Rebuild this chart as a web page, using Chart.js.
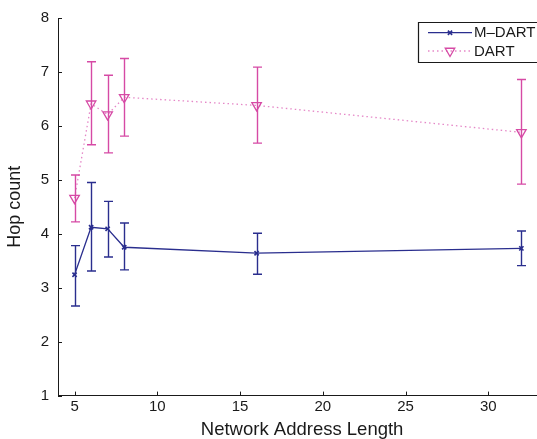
<!DOCTYPE html>
<html>
<head>
<meta charset="utf-8">
<script src="https://cdn.jsdelivr.net/npm/chart.js@4.4.1/dist/chart.umd.min.js"></script>
<style>
  html, body { margin: 0; padding: 0; background: #fff; overflow: hidden; }
  #wrap { width: 537px; height: 439px; overflow: hidden; }
</style>
</head>
<body>
<div id="wrap"><canvas id="chart" width="553" height="439"></canvas></div>
<script>
// network address length on the x axis
const xValues = [5, 6, 7, 8, 16, 32];

// M-DART: mean hop count and error bar limits
const mdartMean = [3.24, 4.12, 4.09, 3.75, 3.64, 3.73];
const mdartLow  = [2.66, 3.31, 3.57, 3.33, 3.25, 3.41];
const mdartHigh = [3.78, 4.95, 4.60, 4.20, 4.01, 4.05];

// DART: mean hop count and error bar limits
const dartMean = [4.66, 6.41, 6.21, 6.53, 6.38, 5.88];
const dartLow  = [4.22, 5.65, 5.50, 5.81, 5.68, 4.92];
const dartHigh = [5.09, 7.19, 6.94, 7.25, 7.09, 6.86];

const xTicks = [5, 10, 15, 20, 25, 30];
const yTicks = [1, 2, 3, 4, 5, 6, 7, 8];

const seriesNames = ['M\u2013DART', 'DART'];

const blue = '#2a2e8e';
const pink = '#d64aa5';
const pinkLine = 'rgba(220, 95, 180, 0.75)';
const ink = '#1a1a1a';

Chart.defaults.font.family = '"Liberation Sans", Arial, Helvetica, sans-serif';
Chart.defaults.color = ink;

function toPoints(ys) {
  return xValues.map((x, i) => ({ x: x, y: ys[i] }));
}

// vertical error bars with caps
const errorBars = {
  id: 'errorBars',
  afterDatasetsDraw(chart) {
    const ctx = chart.ctx;
    const xs = chart.scales.x, ys = chart.scales.y;
    const sets = [
      { low: mdartLow, high: mdartHigh, color: blue },
      { low: dartLow, high: dartHigh, color: pink }
    ];
    ctx.save();
    sets.forEach(s => {
      ctx.strokeStyle = s.color;
      ctx.lineWidth = 1.4;
      xValues.forEach((x, i) => {
        const px = Math.round(xs.getPixelForValue(x)) + 0.5;
        const y1 = ys.getPixelForValue(s.low[i]);
        const y2 = ys.getPixelForValue(s.high[i]);
        ctx.beginPath();
        ctx.moveTo(px, y1);
        ctx.lineTo(px, y2);
        ctx.moveTo(px - 4.5, y1);
        ctx.lineTo(px + 4.5, y1);
        ctx.moveTo(px - 4.5, y2);
        ctx.lineTo(px + 4.5, y2);
        ctx.stroke();
      });
    });
    ctx.restore();
  }
};

// inward tick marks, like the original axes
const innerTicks = {
  id: 'innerTicks',
  afterDraw(chart) {
    const ctx = chart.ctx;
    const xs = chart.scales.x, ys = chart.scales.y;
    const area = chart.chartArea;
    ctx.save();
    ctx.strokeStyle = ink;
    ctx.lineWidth = 1;
    ctx.beginPath();
    xTicks.forEach(v => {
      const px = Math.round(xs.getPixelForValue(v)) + 0.5;
      ctx.moveTo(px, area.bottom);
      ctx.lineTo(px, area.bottom - 4);
    });
    yTicks.forEach(v => {
      const py = Math.round(ys.getPixelForValue(v)) + 0.5;
      ctx.moveTo(area.left, py);
      ctx.lineTo(area.left + 4, py);
    });
    ctx.stroke();
    ctx.restore();
  }
};

// boxed legend in the upper right corner, running past the right edge
const boxLegend = {
  id: 'boxLegend',
  afterDraw(chart) {
    const ctx = chart.ctx;
    const left = 418.5, top = 22.5, w = 200, h = 40;
    const rows = [32.7, 51];
    ctx.save();
    ctx.fillStyle = '#fff';
    ctx.fillRect(left, top, w, h);
    ctx.strokeStyle = ink;
    ctx.lineWidth = 1.2;
    ctx.beginPath();
    ctx.moveTo(left + w, top);
    ctx.lineTo(left, top);
    ctx.lineTo(left, top + h);
    ctx.lineTo(left + w, top + h);
    ctx.stroke();

    chart.data.datasets.forEach((ds, i) => {
      const y = rows[i];
      ctx.save();
      ctx.strokeStyle = ds.borderColor;
      ctx.lineWidth = ds.borderWidth;
      ctx.setLineDash(ds.borderDash || []);
      ctx.beginPath();
      ctx.moveTo(428, y);
      ctx.lineTo(472, y);
      ctx.stroke();
      ctx.restore();
      ctx.strokeStyle = ds.pointBorderColor;
      ctx.fillStyle = 'rgba(0,0,0,0)';
      ctx.lineWidth = ds.pointBorderWidth;
      Chart.helpers.drawPoint(ctx, {
        pointStyle: ds.pointStyle,
        rotation: ds.pointRotation || 0,
        radius: ds.pointRadius,
        borderWidth: ds.pointBorderWidth
      }, 450, y);
      ctx.fillStyle = ink;
      ctx.font = '15px "Liberation Sans", Arial, sans-serif';
      ctx.textBaseline = 'middle';
      ctx.textAlign = 'left';
      ctx.fillText(ds.label, 474, y + 0.5);
    });
    ctx.restore();
  }
};

new Chart(document.getElementById('chart'), {
  type: 'line',
  data: {
    datasets: [
      {
        label: seriesNames[0],
        data: toPoints(mdartMean),
        borderColor: blue,
        borderWidth: 1.3,
        pointStyle: 'crossRot',
        pointRadius: 3,
        pointBorderWidth: 1.6,
        pointBorderColor: blue,
        pointBackgroundColor: blue,
        tension: 0
      },
      {
        label: seriesNames[1],
        data: toPoints(dartMean),
        borderColor: pinkLine,
        borderWidth: 1.3,
        borderDash: [1.5, 3],
        pointStyle: 'triangle',
        pointRotation: 180,
        pointRadius: 5.5,
        pointBorderWidth: 1.3,
        pointBorderColor: pink,
        pointBackgroundColor: 'rgba(0,0,0,0)',
        tension: 0
      }
    ]
  },
  options: {
    responsive: false,
    animation: false,
    layout: { padding: { top: 18, left: 0, right: 0, bottom: 0 } },
    plugins: {
      legend: { display: false },
      tooltip: { enabled: false }
    },
    scales: {
      x: {
        type: 'linear',
        min: 4,
        max: 33.5,
        grid: { display: false, drawTicks: false, tickLength: 0 },
        border: { display: true, color: ink, width: 1 },
        afterBuildTicks: s => { s.ticks = xTicks.map(v => ({ value: v })); },
        afterFit: s => { s.height = 43.4; },
        ticks: { font: { size: 15 }, padding: 2, color: ink, maxRotation: 0 },
        title: {
          display: true,
          text: 'Network Address Length',
          font: { size: 18.5, lineHeight: 1 },
          padding: { top: 0, bottom: 0 },
          color: ink
        }
      },
      y: {
        type: 'linear',
        min: 1,
        max: 8,
        grid: { display: false, drawTicks: false, tickLength: 0 },
        border: { display: true, color: ink, width: 1 },
        afterBuildTicks: s => { s.ticks = yTicks.map(v => ({ value: v })); },
        afterFit: s => { s.width = 58; },
        ticks: { font: { size: 15 }, padding: 9, color: ink },
        title: {
          display: true,
          text: 'Hop count',
          font: { size: 18, lineHeight: 1 },
          padding: { top: 6, bottom: 0 },
          color: ink
        }
      }
    }
  },
  plugins: [errorBars, innerTicks, boxLegend]
});
</script>
</body>
</html>
